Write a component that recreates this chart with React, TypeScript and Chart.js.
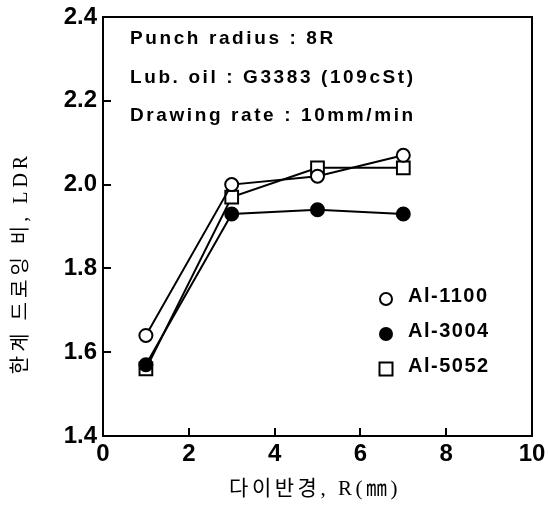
import React, { useEffect, useRef } from "react";
import { Chart, registerables } from "chart.js";

Chart.register(...registerables);

// ---- data ----
const dieRadius = [1, 3, 5, 7];
const al1100 = [1.64, 2.0, 2.02, 2.07];
const al3004 = [1.57, 1.93, 1.94, 1.93];
const al5052 = [1.56, 1.97, 2.04, 2.04];
const seriesNames = ["Al-1100", "Al-3004", "Al-5052"];
const conditionLines = [
  "Punch radius : 8R",
  "Lub. oil : G3383 (109cSt)",
  "Drawing rate : 10mm/min",
];
const xTitle = "다이반경, R(㎜)";
const yTitle = "한계 드로잉 비, LDR";
const xRange = [0, 10, 2];
const yRange = [1.4, 2.4, 0.2];

const SANS = "'Liberation Sans', Arial, Helvetica, sans-serif";
const SERIF_KR = "'Liberation Serif', 'Noto Sans CJK KR', serif";

const toPoints = (ys: number[]) => dieRadius.map((x, i) => ({ x, y: ys[i] }));

const overlayPlugin = {
  id: "overlay",
  afterDraw(chart: any) {
    const { ctx, chartArea: a } = chart;
    ctx.save();
    // frame
    ctx.strokeStyle = "#000";
    ctx.lineWidth = 2;
    ctx.strokeRect(a.left, a.top, a.right - a.left, a.bottom - a.top);

    // condition text
    ctx.fillStyle = "#000";
    ctx.font = `bold 19px ${SANS}`;
    (ctx as any).letterSpacing = "2.6px";
    ctx.textAlign = "left";
    ctx.textBaseline = "alphabetic";
    conditionLines.forEach((t, i) => {
      ctx.fillText(t, a.left + 27, a.top + 27 + i * 38.5);
    });

    // legend
    ctx.font = `bold 20px ${SANS}`;
    (ctx as any).letterSpacing = "1.5px";
    ctx.textBaseline = "middle";
    chart.data.datasets.forEach((ds: any, i: number) => {
      const cx = a.left + 283;
      const cy = a.top + 282 + i * 35;
      ctx.lineWidth = 2;
      ctx.strokeStyle = "#000";
      ctx.fillStyle = ds.pointBackgroundColor;
      ctx.beginPath();
      if (ds.pointStyle === "rect") {
        const s = 6.5;
        ctx.rect(cx - s, cy - s, 2 * s, 2 * s);
      } else {
        ctx.arc(cx, cy, 6, 0, Math.PI * 2);
      }
      ctx.fill();
      ctx.stroke();
      ctx.fillStyle = "#000";
      ctx.fillText(ds.label, a.left + 305, cy - 3);
    });

    // axis titles
    ctx.textAlign = "center";
    ctx.textBaseline = "middle";
    ctx.font = `21px ${SERIF_KR}`;
    (ctx as any).letterSpacing = "3.5px";
    ctx.fillText(xTitle, 315, 489);

    ctx.save();
    ctx.translate(22, 263);
    ctx.rotate(-Math.PI / 2);
    ctx.font = `20px ${SERIF_KR}`;
    (ctx as any).letterSpacing = "4px";
    ctx.fillText(yTitle, 0, 0);
    ctx.restore();

    ctx.restore();
  },
};

export default function App() {
  const canvasRef = useRef<HTMLCanvasElement | null>(null);

  useEffect(() => {
    document.body.style.margin = "0";
    const canvas = canvasRef.current;
    if (!canvas) return;
    const mk = (label: string, ys: number[], style: string, bg: string, r: number) => ({
      label,
      data: toPoints(ys),
      borderColor: "#000",
      borderWidth: 2,
      pointStyle: style,
      pointRadius: r,
      pointBorderWidth: 2,
      pointBorderColor: "#000",
      pointBackgroundColor: bg,
      showLine: true,
      fill: false,
      tension: 0,
    });
    const chart = new Chart(canvas, {
      type: "scatter",
      data: {
        datasets: [
          mk(seriesNames[0], al1100, "circle", "#fff", 6.5),
          mk(seriesNames[1], al3004, "circle", "#000", 6.5),
          mk(seriesNames[2], al5052, "rect", "#fff", 9),
        ],
      },
      options: {
        animation: false,
        responsive: false,
        devicePixelRatio: 1,
        layout: { padding: { top: 17, right: 16, left: 0, bottom: 0 } },
        plugins: {
          legend: { display: false },
          tooltip: { enabled: false },
          title: { display: false },
        },
        scales: {
          x: {
            type: "linear",
            min: xRange[0],
            max: xRange[1],
            afterFit: (s: any) => {
              s.height = 76;
              s.paddingLeft = 0;
              s.paddingRight = 0;
            },
            ticks: {
              stepSize: xRange[2],
              color: "#000",
              padding: 12,
              font: { family: SANS, size: 24, weight: "bold" },
            },
            grid: {
              drawOnChartArea: false,
              drawTicks: true,
              tickLength: -8,
              color: "#000",
              lineWidth: 2,
            },
            border: { display: true, color: "#000", width: 2 },
          },
          y: {
            type: "linear",
            min: yRange[0],
            max: yRange[1],
            afterFit: (s: any) => {
              s.width = 103;
              s.paddingTop = 0;
              s.paddingBottom = 0;
            },
            ticks: {
              stepSize: yRange[2],
              color: "#000",
              padding: 14,
              font: { family: SANS, size: 24, weight: "bold" },
              callback: (v: any) => Number(v).toFixed(1),
            },
            grid: {
              drawOnChartArea: false,
              drawTicks: true,
              tickLength: -8,
              color: "#000",
              lineWidth: 2,
            },
            border: { display: true, color: "#000", width: 2 },
          },
        },
      },
      plugins: [overlayPlugin],
    } as any);
    return () => chart.destroy();
  }, []);

  return (
    <div style={{ width: 548, height: 512, background: "#fff" }}>
      <canvas ref={canvasRef} width={548} height={512} style={{ display: "block" }} />
    </div>
  );
}
